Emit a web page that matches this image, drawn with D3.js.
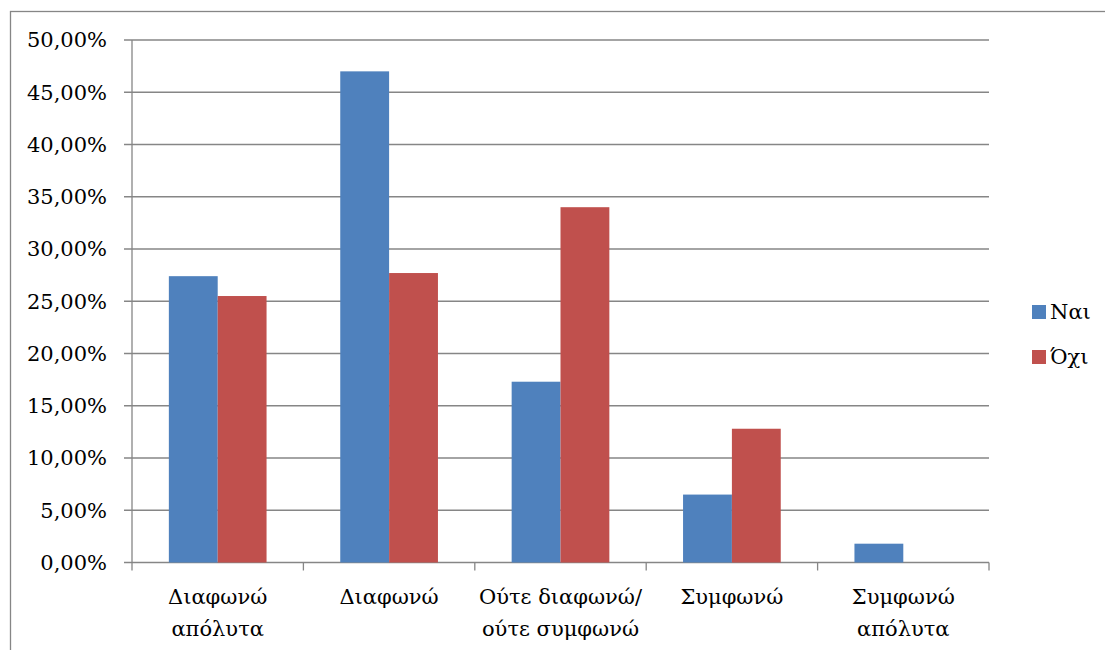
<!DOCTYPE html>
<html>
<head>
<meta charset="utf-8">
<title>Διαφωνώ / Συμφωνώ</title>
<script src="https://cdn.jsdelivr.net/npm/d3@7"></script>
<style>
body{margin:0;background:#fff}
svg{display:block}
.grid line{stroke:#868686;stroke-width:1.3}
</style>
</head>
<body>
<script>
// Data
const categories = [['Διαφωνώ','απόλυτα'],['Διαφωνώ'],['Ούτε διαφωνώ/','ούτε συμφωνώ'],['Συμφωνώ'],['Συμφωνώ','απόλυτα']]
const seriesNames = ['Ναι','Όχι']
const nai = [0.274, 0.470, 0.173, 0.065, 0.018]
const oxi = [0.255, 0.277, 0.340, 0.128, 0]
const colors = ['#4F81BD','#C0504D']
const yTicks = [0,0.05,0.10,0.15,0.20,0.25,0.30,0.35,0.40,0.45,0.50]

const W = 1105, H = 650
const plot = { left: 132, right: 989, top: 40, bottom: 562.5 }
const FONT = 'DejaVu Serif'

const svg = d3.select('body').append('svg')
  .attr('width', W).attr('height', H)

// outer frame
svg.append('rect')
  .attr('x', 10.5).attr('y', 11.5)
  .attr('width', W + 20).attr('height', H + 20)
  .attr('fill', 'none').attr('stroke', '#868686').attr('stroke-width', 1.3)

const x0 = d3.scaleBand().domain(d3.range(categories.length)).range([plot.left, plot.right])
  .paddingInner(0.43).paddingOuter(0.215)
const x1 = d3.scaleBand().domain([0,1]).range([0, x0.bandwidth()])
const y = d3.scaleLinear().domain([0,0.5]).range([plot.bottom, plot.top])

const fmt = v => d3.format('.2f')(v*100).replace('.', ',') + '%'

// gridlines + tick marks
const grid = svg.append('g').attr('class', 'grid')
grid.selectAll('line.h').data(yTicks).enter().append('line')
  .attr('class', 'h')
  .attr('x1', plot.left - 8).attr('x2', plot.right)
  .attr('y1', d => y(d)).attr('y2', d => y(d))

// y axis line
grid.append('line').attr('x1', plot.left).attr('x2', plot.left).attr('y1', plot.top).attr('y2', plot.bottom)

// category ticks
const step = (plot.right - plot.left) / categories.length
grid.selectAll('line.v').data(d3.range(categories.length + 1)).enter().append('line')
  .attr('class', 'v')
  .attr('x1', d => plot.left + d*step).attr('x2', d => plot.left + d*step)
  .attr('y1', plot.bottom).attr('y2', plot.bottom + 8)

// y labels
svg.selectAll('text.yl').data(yTicks).enter().append('text')
  .attr('class', 'yl')
  .attr('x', 107).attr('y', d => y(d)).attr('dy', '0.35em')
  .attr('text-anchor', 'end')
  .attr('font-family', FONT).attr('font-size', 21)
  .text(fmt)

// bars
const rows = categories.map((c, i) => [nai[i], oxi[i]])
const g = svg.selectAll('g.cat').data(rows).enter().append('g')
  .attr('transform', (d, i) => `translate(${x0(i)},0)`)
g.selectAll('rect').data(d => d).enter().append('rect')
  .attr('x', (d, j) => x1(j))
  .attr('width', x1.bandwidth())
  .attr('y', d => y(d))
  .attr('height', d => plot.bottom - y(d))
  .attr('fill', (d, j) => colors[j])

// category labels
const lab = svg.selectAll('text.xl').data(categories).enter().append('text')
  .attr('class', 'xl')
  .attr('text-anchor', 'middle')
  .attr('font-family', FONT).attr('font-size', 21)
lab.selectAll('tspan').data((d, i) => d.map(t => ({t, i}))).enter().append('tspan')
  .attr('x', d => x0(d.i) + x0.bandwidth()/2)
  .attr('y', (d, k) => 604 + k*32)
  .text(d => d.t)

// legend
const leg = svg.selectAll('g.leg').data(seriesNames).enter().append('g')
  .attr('transform', (d, i) => `translate(1032,${305 + i*45})`)
leg.append('rect').attr('width', 14).attr('height', 14).attr('fill', (d, i) => colors[i])
leg.append('text').attr('x', 18).attr('y', 14)
  .attr('font-family', FONT).attr('font-size', 21).text(d => d)
</script>
</body>
</html>
